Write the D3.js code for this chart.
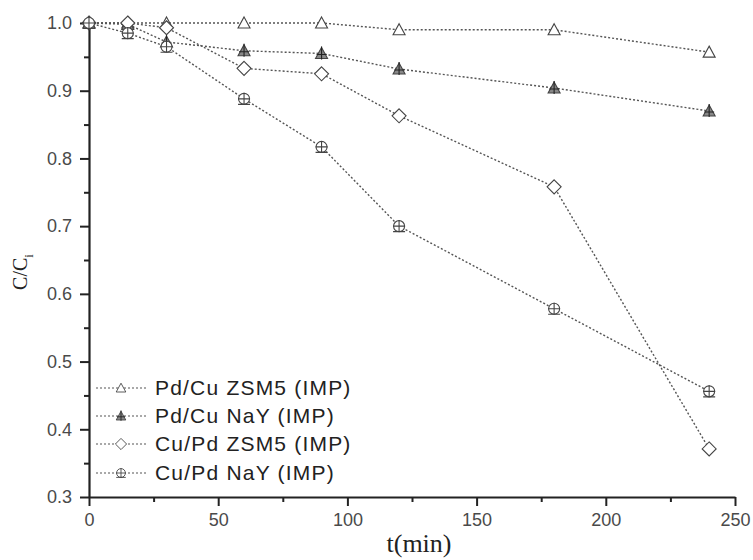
<!DOCTYPE html>
<html><head><meta charset="utf-8">
<script src="https://cdn.jsdelivr.net/npm/d3@7"></script>
<style>body{margin:0;background:#fff}svg{display:block}</style>
</head><body>
<svg id="c" width="753" height="560"></svg>
<script>
const times = [0, 15, 30, 60, 90, 120, 180, 240];
const seriesNames = ["Pd/Cu ZSM5 (IMP)", "Pd/Cu NaY (IMP)", "Cu/Pd ZSM5 (IMP)", "Cu/Pd NaY (IMP)"];
const pdcuZSM5 = [1.0, 1.0, 1.0, 1.0, 1.0, 0.99, 0.99, 0.957];
const pdcuNaY  = [1.0, 0.998, 0.972, 0.959, 0.955, 0.932, 0.904, 0.87];
const cupdZSM5 = [1.0, 1.0, 0.993, 0.933, 0.925, 0.863, 0.758, 0.371];
const cupdNaY  = [1.0, 0.985, 0.965, 0.888, 0.817, 0.70, 0.578, 0.456];
const xTicks = [0, 50, 100, 150, 200, 250];
const yTicks = [0.3, 0.4, 0.5, 0.6, 0.7, 0.8, 0.9, 1.0];
const markers = ["triangle", "tristar", "diamond", "circleplus"];

const svg = d3.select("#c");
const x = d3.scaleLinear().domain([0, 250]).range([89, 735]);
const y = d3.scaleLinear().domain([0.3, 1.0]).range([497, 23]);
const ax = "#222";
const sans = "Liberation Sans, Arial, sans-serif";
const serif = "Liberation Serif, Times New Roman, serif";

// minor ticks
svg.append("g").attr("transform", "translate(0,497)")
  .call(d3.axisBottom(x).tickValues(d3.range(25, 250, 50)).tickSize(5).tickFormat(""))
  .call(g => g.select(".domain").remove())
  .call(g => g.selectAll("line").attr("stroke", ax).attr("stroke-width", 2));
svg.append("g").attr("transform", "translate(89,0)")
  .call(d3.axisLeft(y).tickValues(d3.range(0.35, 1.0, 0.1)).tickSize(5).tickFormat(""))
  .call(g => g.select(".domain").remove())
  .call(g => g.selectAll("line").attr("stroke", ax).attr("stroke-width", 2));

const gx = svg.append("g").attr("transform", "translate(0,497)")
  .call(d3.axisBottom(x).tickValues(xTicks).tickSize(9).tickSizeOuter(0).tickPadding(7).tickFormat(d3.format("d")));
const gy = svg.append("g").attr("transform", "translate(89,0)")
  .call(d3.axisLeft(y).tickValues(yTicks).tickSize(9).tickSizeOuter(0).tickPadding(8).tickFormat(d3.format(".1f")));
[gx, gy].forEach(g => {
  g.select(".domain").attr("stroke", ax).attr("stroke-width", 2.2);
  g.selectAll(".tick line").attr("stroke", ax).attr("stroke-width", 2);
  g.selectAll("text").attr("font-family", sans).attr("font-size", 18).attr("fill", "#4a4a4a");
});

// axis titles
svg.append("text").attr("x", 419).attr("y", 552).attr("text-anchor", "middle")
  .attr("font-family", serif).attr("font-size", 26).attr("fill", "#222").text("t(min)");
const yt = svg.append("text").attr("transform", "translate(27,272) rotate(-90)").attr("text-anchor", "middle")
  .attr("font-family", serif).attr("font-size", 20).attr("fill", "#222");
yt.append("tspan").text("C/C");
yt.append("tspan").attr("font-size", 13).attr("dy", 6).text("i");

function drawMarker(g, type, cx, cy) {
  const s = g.append("g").attr("transform", `translate(${cx},${cy})`)
    .attr("fill", "#fff").attr("stroke", "#444").attr("stroke-width", 1.1);
  if (type === "triangle") {
    s.append("path").attr("d", "M0,-6L6,5L-6,5Z");
  } else if (type === "tristar") {
    s.append("path").attr("d", "M0,-6L6,5L-6,5Z").attr("fill", "#888");
    s.append("path").attr("d", "M0,-7V6M-5,1H5").attr("stroke", "#222");
  } else if (type === "diamond") {
    s.append("path").attr("d", "M0,-7L7,0L0,7L-7,0Z");
  } else {
    s.append("circle").attr("r", 5.5);
    s.append("path").attr("d", "M0,-6V6M-6,0H6M-6,5.5H6");
  }
}

const allSeries = [pdcuZSM5, pdcuNaY, cupdZSM5, cupdNaY];
const line = d3.line().x(d => x(d[0])).y(d => y(d[1]));
allSeries.forEach((vals) => {
  const pts = times.map((t, j) => [t, vals[j]]);
  svg.append("path").attr("d", line(pts)).attr("fill", "none")
    .attr("stroke", "#555").attr("stroke-width", 1.4).attr("stroke-dasharray", "2,2");
});
allSeries.forEach((vals, i) => {
  times.forEach((t, j) => drawMarker(svg, markers[i], x(t), y(vals[j])));
});

// legend
const ly = [388, 416, 444, 473];
seriesNames.forEach((name, i) => {
  svg.append("line").attr("x1", 96).attr("x2", 146).attr("y1", ly[i]).attr("y2", ly[i])
    .attr("stroke", "#555").attr("stroke-width", 1.1).attr("stroke-dasharray", "2,2");
  const lg = svg.append("g");
  drawMarker(lg, markers[i], 121, ly[i]);
  lg.attr("transform", `translate(${121*0.2},${ly[i]*0.2}) scale(0.8)`);
  svg.append("text").attr("x", 155).attr("y", ly[i] + 7).attr("font-family", sans)
    .attr("font-size", 21).attr("letter-spacing", 1.2).attr("fill", "#222").text(name);
});
</script>
</body></html>
